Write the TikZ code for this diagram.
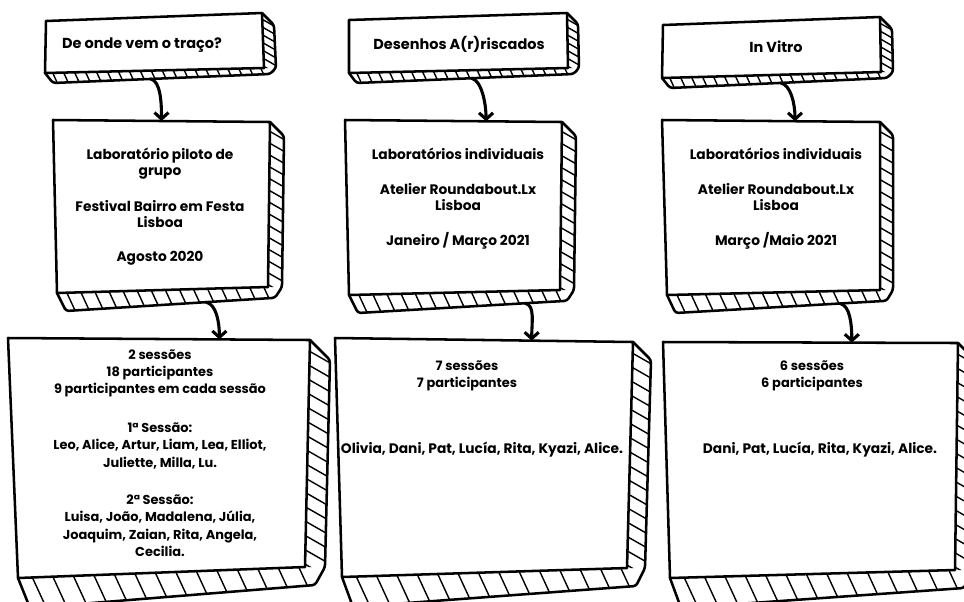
\documentclass[tikz,border=0pt]{standalone}
\usepackage{fontspec}
\setmainfont{Poppins}
\usetikzlibrary{arrows.meta,calc}

\tikzset{
  sk/.style={line width=1.8pt, line join=round, line cap=round},
  hatch/.style={line width=1pt, line cap=round},
  arr/.style={line width=2.2pt, line cap=round, -{Straight Barb[length=4.5pt,width=10pt]}},
  title/.style={font=\bfseries\fontsize{10.3}{12}\selectfont, align=center},
  txt/.style={font=\bfseries\fontsize{9.8}{11.4}\selectfont, align=center},
  bigtxt/.style={font=\bfseries\fontsize{9.2}{12.4}\selectfont, align=center},
}

% name, nw, ne, se, sw, side depth, strip height, hatches below, hatches at side
\newcommand{\sketchbox}[9]{%
  \coordinate (#1-nw) at (#2);
  \coordinate (#1-ne) at (#3);
  \coordinate (#1-se) at (#4);
  \coordinate (#1-sw) at (#5);
  \coordinate (#1-o1) at ($(#1-ne)+(#6,#6)$);
  \coordinate (#1-o2) at ($(#1-se)+(#6,0)$);
  \coordinate (#1-o3) at ($(#1-se)+(#6/2,0.6*#7)$);
  \coordinate (#1-o4) at ($(#1-sw)+(#6/2+2,#7)$);
  \fill[white] (#1-ne) -- (#1-o1) -- (#1-o2) -- (#1-o3) -- (#1-o4) -- (#1-sw) -- (#1-se) -- cycle;
  \begin{scope}
    \clip (#1-sw) -- (#1-se) -- (#1-o3) -- (#1-o4) -- cycle;
    \foreach \i in {0,...,#8} {
      \pgfmathsetmacro\hp{(\i-0.3)/#8}
      \draw[hatch] ($(#1-sw)!\hp!(#1-se)$) -- +(0.6*#7,1.3*#7);
    }
  \end{scope}
  \begin{scope}
    \clip (#1-ne) -- (#1-o1) -- (#1-o2) -- (#1-se) -- cycle;
    \foreach \i in {0,...,#9} {
      \pgfmathsetmacro\hp{(\i-0.2)/#9}
      \draw[hatch] ($(#1-ne)!\hp!(#1-se)$) -- +(1.4*#6,0.8*#6);
    }
  \end{scope}
  \draw[sk, rounded corners=2pt] (#1-ne) -- (#1-o1) -- (#1-o2) -- (#1-o3) -- (#1-o4) -- (#1-sw);
  \draw[sk, fill=white] (#1-nw) -- (#1-ne) -- (#1-se) -- (#1-sw) -- cycle;
}

\begin{document}
\begin{tikzpicture}[x=0.025cm, y=-0.025cm]
  \clip (0,0) rectangle (964,601);

  % top row
  \sketchbox{a1}{46,21}{262,13}{264,68}{45,73}{12}{10}{20}{7}
  \sketchbox{b1}{349,20}{567,13}{568,68}{349,73}{11}{10}{20}{7}
  \sketchbox{c1}{663,25}{880,17}{881,72}{662,78}{12}{10}{20}{7}
  % middle row
  \sketchbox{a2}{53,120}{270,122}{268,287}{57,293}{14}{18}{15}{14}
  \sketchbox{b2}{345,120}{562,122}{560,290}{349,295}{14}{18}{15}{14}
  \sketchbox{c2}{662,120}{880,122}{880,290}{667,295}{13}{18}{15}{14}
  % bottom row
  \sketchbox{a3}{8,338}{310,340}{305,567}{18,578}{20}{30}{14}{16}
  \sketchbox{b3}{335,338}{633,342}{627,568}{342,577}{18}{30}{14}{16}
  \sketchbox{c3}{663,342}{958,343}{955,570}{670,578}{18}{30}{14}{16}

  \node[title] (a1t) at (142,45) {De onde vem o traço?};
  \node[title] (b1t) at (459,44) {Desenhos A(r)riscados};
  \node[title] (c1t) at (776,47) {In Vitro};

  \node[txt] (a2t) at (160,207) {Laboratório piloto de\\grupo\\[14pt]Festival Bairro em Festa\\Lisboa\\[13pt]Agosto 2020};
  \node[txt] (b2t) at (458,199) {Laboratórios individuais\\[13.5pt]Atelier Roundabout.Lx\\Lisboa\\[13.5pt]Janeiro / Março 2021};
  \node[txt] (c2t) at (776,199) {Laboratórios individuais\\[13.5pt]Atelier Roundabout.Lx\\Lisboa\\[13.5pt]Março /Maio 2021};

  \node[bigtxt] (a3t) at (160,453) {2 sessões\\18 participantes\\9 participantes em cada sessão\\[15pt]1ª Sessão:\\Leo, Alice, Artur, Liam, Lea, Elliot,\\Juliette, Milla, Lu.\\[14pt]2ª Sessão:\\Luisa, João, Madalena, Júlia,\\Joaquim, Zaian, Rita, Angela,\\Cecilia.};
  \node[bigtxt] (b3t) at (467,376) {7 sessões\\7 participantes};
  \node[txt] (b3n) at (482,450) {Olivia, Dani, Pat, Lucía, Rita, Kyazi, Alice.};
  \node[bigtxt] (c3t) at (812,376) {6 sessões\\6 participantes};
  \node[txt] (c3n) at (820,450) {Dani, Pat, Lucía, Rita, Kyazi, Alice.};

  \draw[arr] ($(a1-o4)!0.45!(a1-o3)$) .. controls +(10,2) and +(0,-18) .. ($(a2-nw)!0.5!(a2-ne)$);
  \draw[arr] ($(b1-o4)!0.53!(b1-o3)$) .. controls +(10,2) and +(0,-18) .. ($(b2-nw)!0.65!(b2-ne)$);
  \draw[arr] ($(c1-o4)!0.51!(c1-o3)$) .. controls +(10,2) and +(0,-18) .. ($(c2-nw)!0.61!(c2-ne)$);
  \draw[arr] ($(a2-o4)!0.67!(a2-o3)$) .. controls +(10,2) and +(0,-18) .. ($(a3-nw)!0.7!(a3-ne)$);
  \draw[arr] ($(b2-o4)!0.8!(b2-o3)$) .. controls +(10,2) and +(0,-18) .. ($(b3-nw)!0.66!(b3-ne)$);
  \draw[arr] ($(c2-o4)!0.78!(c2-o3)$) .. controls +(10,2) and +(0,-18) .. ($(c3-nw)!0.64!(c3-ne)$);
\end{tikzpicture}
\end{document}
